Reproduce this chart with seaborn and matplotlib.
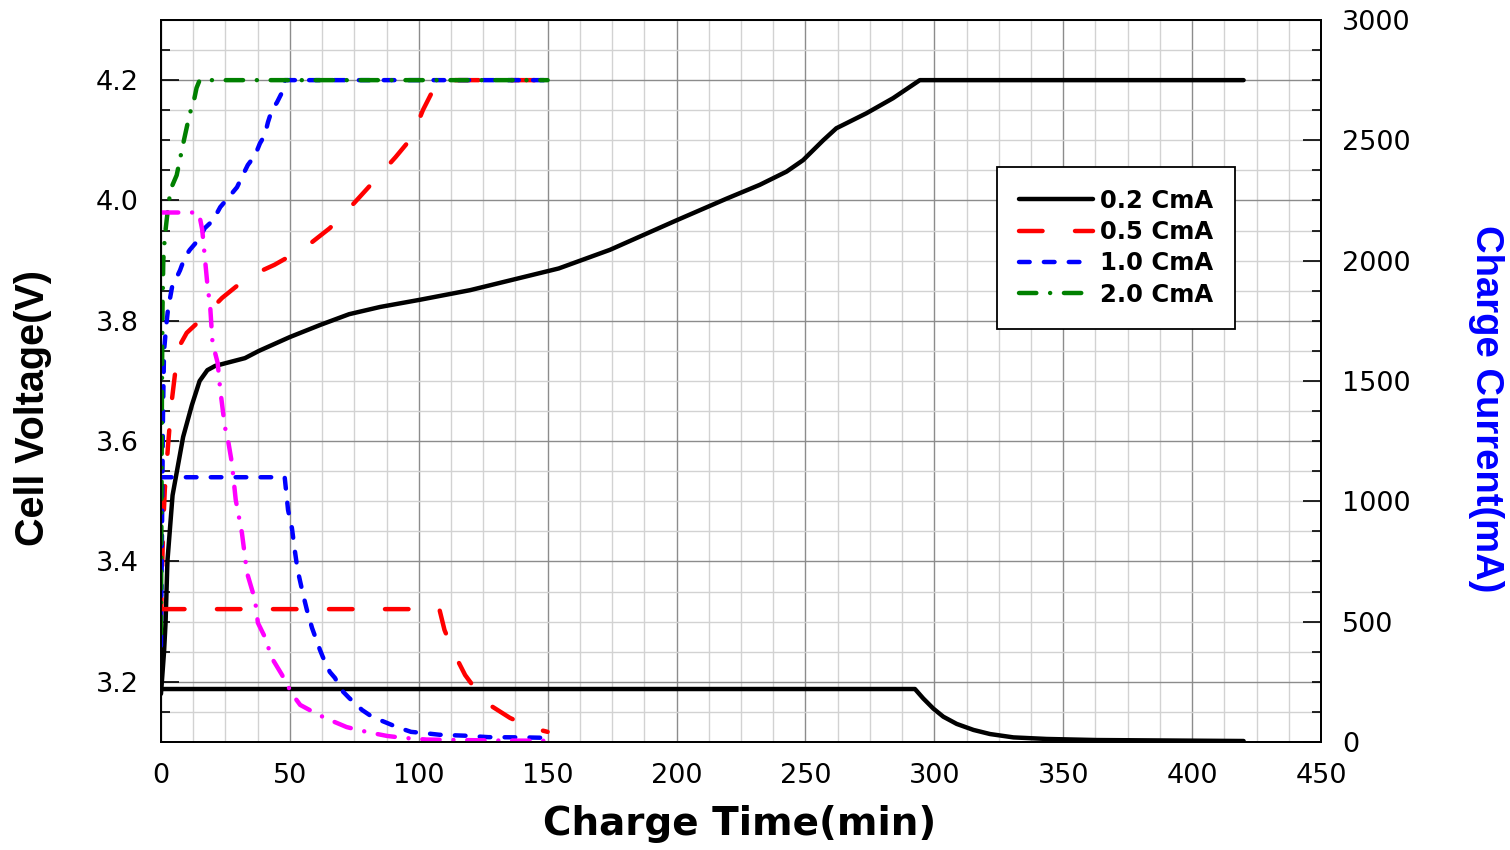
import matplotlib
matplotlib.use("Agg")
import matplotlib.pyplot as plt
from matplotlib.ticker import MultipleLocator, FormatStrFormatter
import seaborn as sns

# Cell voltage (V) vs charge time (min)
t_v02 = [0, 1.2, 1.8, 2.5, 4.5, 8.6, 12, 15, 18, 21, 32.6, 38, 50, 61.7, 73, 85, 100.5,
         120, 154.3, 174.2, 200, 219.4, 232.3, 242.7, 249.1, 256.9, 262, 273.7, 284, 294.4, 420]
v_02 = [3.18, 3.25, 3.30, 3.40, 3.51, 3.607, 3.66, 3.70, 3.718, 3.725, 3.738, 3.75, 3.773, 3.793,
        3.811, 3.823, 3.835, 3.851, 3.887, 3.918, 3.967, 4.003, 4.026, 4.048, 4.067, 4.10, 4.12,
        4.145, 4.17, 4.20, 4.20]

t_v05 = [0, 0.8, 1.5, 2.7, 4, 5.4, 7.4, 10, 15, 23.7, 33.8, 44, 56, 65.5, 75, 82, 91, 97.4,
         101.6, 105.5, 108, 150]
v_05 = [3.30, 3.45, 3.52, 3.59, 3.66, 3.71, 3.76, 3.78, 3.80, 3.838, 3.873, 3.893, 3.922, 3.954,
        3.996, 4.029, 4.072, 4.105, 4.15, 4.183, 4.20, 4.20]

t_v10 = [0, 0.4, 0.8, 1.2, 2.0, 2.7, 4.3, 7.4, 9.3, 11.2, 14.4, 17, 20.2, 23, 26, 29.5, 31.4,
         33.7, 36.5, 38.4, 40.3, 41.5, 43, 45, 47, 48, 150]
v_10 = [3.26, 3.45, 3.65, 3.75, 3.79, 3.818, 3.856, 3.884, 3.906, 3.918, 3.934, 3.954, 3.967,
        3.989, 4.004, 4.022, 4.039, 4.059, 4.075, 4.095, 4.109, 4.13, 4.15, 4.163, 4.18, 4.20, 4.20]

t_v20 = [0, 0.2, 0.4, 0.6, 0.9, 1.5, 2.2, 3.1, 4.1, 6.1, 8.65, 11.2, 12.5, 13.8, 15, 150]
v_20 = [3.28, 3.50, 3.70, 3.82, 3.90, 3.94, 3.967, 4.0, 4.022, 4.042, 4.095, 4.145, 4.16, 4.187,
        4.20, 4.20]

# Charge current (mA) vs charge time (min)
t_i02 = [0, 292.5, 295.7, 299.6, 303.5, 308.7, 315.2, 321.6, 330.7, 343.6, 363, 420]
i_02 = [220, 220, 181, 139, 105, 75, 50, 33, 19, 12.5, 8, 4]

t_i05 = [0, 108, 110, 114, 118, 125.7, 135.4, 141, 147, 150]
i_05 = [552, 552, 465, 362, 278, 166, 100, 72, 50, 42]

t_i10 = [0, 48, 49.3, 50.8, 52, 53, 55, 56.6, 58.6, 61.7, 62.8, 65.5, 67.5, 70, 73, 78, 82,
         87.7, 91.5, 97, 102, 108, 118, 127, 141, 150]
i_10 = [1100, 1100, 964, 889, 790, 715, 619, 549, 474, 382, 353, 291, 266, 216, 183, 133, 104,
        79, 62, 42, 37, 30, 26, 20, 19, 17]

t_i20 = [0, 14.5, 15, 16, 17, 18.2, 19, 20, 22, 23, 24.8, 26, 27.5, 29, 31.4, 33.4, 36.5, 37.6,
         40.3, 43, 47, 48.9, 52, 54, 59, 63.6, 72, 76.4, 82, 87.7, 94, 103, 110, 130, 150]
i_20 = [2200, 2200, 2183, 2129, 2016, 1878, 1825, 1658, 1575, 1463, 1309, 1255, 1160, 1006, 869,
        702, 590, 495, 436, 349, 278, 237, 183, 154, 125, 100, 62, 50, 37, 25, 17, 10, 9, 6, 5]

labels = ["0.2 CmA", "0.5 CmA", "1.0 CmA", "2.0 CmA"]

sns.set_style("white")
plt.rcParams["font.family"] = ["DejaVu Sans"]
plt.rcParams["text.color"] = "black"
plt.rcParams["axes.labelcolor"] = "black"
plt.rcParams["xtick.color"] = "black"
plt.rcParams["ytick.color"] = "black"

fig = plt.figure(figsize=(15.1, 8.5), dpi=100)
ax = fig.add_axes([0.1066, 0.1271, 0.7682, 0.8494])
ax2 = ax.twinx()

lw = 3.2
solid = "-"
long_dash = (0, (5.3, 7.3))
short_dash = (0, (2.4, 3.2))
dash_dot = (0, (3.9, 3.1, 0.01, 3.1))

styles = [("black", solid), ("red", long_dash), ("blue", short_dash), ("green", dash_dot)]
volt_sets = [(t_v02, v_02), (t_v05, v_05), (t_v10, v_10), (t_v20, v_20)]
curr_sets = [(t_i02, i_02, "black", solid), (t_i05, i_05, "red", long_dash),
             (t_i10, i_10, "blue", short_dash), (t_i20, i_20, "magenta", dash_dot)]

line_kw = dict(linewidth=lw, estimator=None, sort=False, dash_capstyle="round",
               solid_capstyle="round", solid_joinstyle="round", dash_joinstyle="round")

handles = []
for (tt, vv), (col, ls) in zip(volt_sets, styles):
    sns.lineplot(x=tt, y=vv, ax=ax, color=col, linestyle=ls, **line_kw)
    handles.append(ax.lines[-1])

for tt, ii, col, ls in curr_sets:
    sns.lineplot(x=tt, y=ii, ax=ax2, color=col, linestyle=ls, **line_kw)

for a in (ax, ax2):
    if a.get_legend() is not None:
        a.get_legend().remove()

ax.set_xlim(0, 450)
ax.set_ylim(3.1, 4.3)
ax2.set_ylim(0, 3000)

ax.xaxis.set_major_locator(MultipleLocator(50))
ax.xaxis.set_minor_locator(MultipleLocator(12.5))
ax.yaxis.set_major_locator(MultipleLocator(0.2))
ax.yaxis.set_minor_locator(MultipleLocator(0.05))
ax.yaxis.set_major_formatter(FormatStrFormatter("%.1f"))
ax2.yaxis.set_major_locator(MultipleLocator(500))
ax2.yaxis.set_minor_locator(MultipleLocator(125))

ax.grid(which="major", color="#8c8c8c", linewidth=1.0)
ax.grid(which="minor", color="#d2d2d2", linewidth=1.0)
ax.set_axisbelow(True)
ax2.grid(False)

ax.tick_params(axis="x", which="major", direction="in", length=10, width=1.2, pad=15,
               labelsize=19.5, top=False)
ax.tick_params(axis="x", which="minor", direction="in", length=5, width=1.2, top=False)
ax.tick_params(axis="y", which="major", direction="in", length=13, width=1.2, pad=16,
               labelsize=19.5, left=True, right=False)
ax.tick_params(axis="y", which="minor", direction="in", length=6.5, width=1.2, left=True, right=False)
ax2.tick_params(axis="y", which="major", direction="in", length=13, width=1.2, pad=15,
                labelsize=19.5, right=True)
ax2.tick_params(axis="y", which="minor", direction="in", length=6.5, width=1.2, right=True)

for a in (ax, ax2):
    for sp in a.spines.values():
        sp.set_color("black")
        sp.set_linewidth(1.3)
        sp.set_visible(True)

ax.set_xlabel("Charge Time(min)", fontsize=28, fontweight="bold", family="DejaVu Sans")
ax.xaxis.set_label_coords(0.499, -0.087)
ax.set_ylabel("Cell Voltage(V)", fontsize=28.5, fontweight="bold", family="Liberation Sans")
ax.yaxis.set_label_coords(-0.094, 0.463)
ax2.set_ylabel("Charge Current(mA)", fontsize=27.5, fontweight="bold", family="Liberation Sans",
               color="blue", rotation=270, va="bottom")
ax2.yaxis.set_label_coords(1.127, 0.461)

leg = ax2.legend(handles=handles, labels=labels, loc="upper left", bbox_to_anchor=(0.7207, 0.7964),
                 borderaxespad=0, fancybox=False, framealpha=1, edgecolor="black",
                 prop={"family": "DejaVu Sans", "weight": "bold", "size": 17.5},
                 handlelength=3.05, handletextpad=0.3, labelspacing=0.3, borderpad=0.9)
leg.get_frame().set_linewidth(1.3)
for txt in leg.get_texts():
    txt.set_color("black")

fig.savefig("out.png", dpi=100)
plt.close(fig)
